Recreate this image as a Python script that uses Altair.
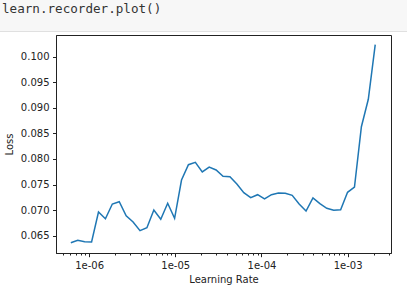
import altair as alt
import pandas as pd

# Learning-rate finder curve
log_lr_start = -6.212
log_lr_end = -2.68
loss = [0.06363, 0.0641, 0.06383, 0.06377, 0.06963, 0.06832, 0.0712, 0.07165,
        0.06891, 0.06768, 0.06598, 0.06656, 0.07003, 0.06821, 0.07134, 0.0684,
        0.07589, 0.07888, 0.07935, 0.07746, 0.07843, 0.07785, 0.07662, 0.07654,
        0.07511, 0.07341, 0.07243, 0.07302, 0.07218, 0.07302, 0.07335, 0.07329,
        0.0729, 0.0712, 0.06983, 0.07237, 0.07126, 0.07036, 0.06997, 0.07008,
        0.07349, 0.07452, 0.08631, 0.09167, 0.10235]
n = len(loss)
lr = [10 ** (log_lr_start + i * (log_lr_end - log_lr_start) / (n - 1)) for i in range(n)]

x_ticks = [m * 10 ** e for e in range(-7, -2) for m in range(1, 10)]
x_ticks = [v for v in x_ticks if 4.2e-7 <= v <= 3.1e-3]
y_ticks = [0.065, 0.070, 0.075, 0.080, 0.085, 0.090, 0.095, 0.100]
header_text = "learn.recorder.plot()"

df = pd.DataFrame({"lr": lr, "loss": loss})

is_decade = "abs(log(datum.value)/LN10 - round(log(datum.value)/LN10)) < 1e-6"

line = alt.Chart(df).mark_line(color="#1f77b4", strokeWidth=1.5).encode(
    x=alt.X("lr:Q",
            scale=alt.Scale(type="log", domain=[10 ** -6.384, 10 ** -2.497], nice=False),
            axis=alt.Axis(
                title="Learning Rate",
                values=x_ticks,
                labelExpr=f"{is_decade} ? replace(format(datum.value, '.0e'), 'e-', 'e-0') : ''",
                tickSize={"condition": {"test": is_decade, "value": 3.7}, "value": 2},
                labelPadding=4,
                titlePadding=4,
                grid=False,
            )),
    y=alt.Y("loss:Q",
            scale=alt.Scale(domain=[0.06162, 0.10424], nice=False, zero=False),
            axis=alt.Axis(title="Loss", values=y_ticks, format=".3f",
                          tickSize=3.5, labelPadding=3.5, titlePadding=6, grid=False)),
)

header_bg = alt.Chart(pd.DataFrame({"t": [header_text]})).mark_rect(
    color="#f7f7f7", stroke="#e0e0e0", strokeWidth=1, clip=False
).encode(x=alt.value(-60), x2=alt.value(360), y=alt.value(-40), y2=alt.value(-3.5))

header_txt = alt.Chart(pd.DataFrame({"t": [header_text]})).mark_text(
    font="DejaVu Sans Mono", fontSize=12.6, color="#333333", align="left",
    baseline="alphabetic", clip=False
).encode(text="t:N", x=alt.value(-54), y=alt.value(-22.5))

chart = alt.layer(header_bg, header_txt, line).properties(
    width=335, height=218,
    background="white",
    padding={"left": 56, "top": 35, "right": 16, "bottom": 45},
    autosize=alt.AutoSizeParams(type="none"),
).configure_view(
    stroke="#222222", strokeWidth=1
).configure_axis(
    labelFont="DejaVu Sans", labelFontSize=10, labelColor="#222222",
    titleFont="DejaVu Sans", titleFontSize=10, titleColor="#222222", titleFontWeight="normal",
    domainColor="#222222", tickColor="#222222", domainWidth=1, tickWidth=1,
)

chart.save("out.html", embed_options={"renderer": "svg", "actions": False})
